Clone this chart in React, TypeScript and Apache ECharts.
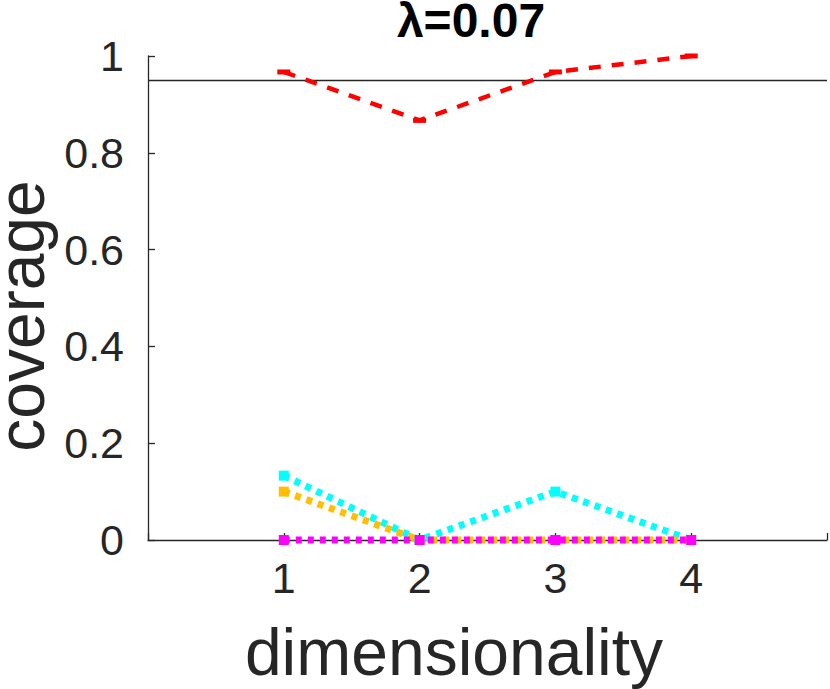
import React, { useEffect, useRef } from "react";
import * as echarts from "echarts";

const dims = [1, 2, 3, 4];
const redValues = [0.967, 0.867, 0.967, 1.0];
const cyanValues = [0.133, 0, 0.1, 0];
const orangeValues = [0.1, 0, 0, 0];
const magentaValues = [0, 0, 0, 0];
const xTickLabels = ["1", "2", "3", "4"];
const refLevel = 0.95;
const titleText = "λ=0.07";
const xName = "dimensionality";
const yName = "coverage";

const FONT = "'Liberation Sans', Arial, Helvetica, sans-serif";
const AXIS = "#262626";

function pairs(vals: number[]) {
  return dims.map((d, i) => [d, vals[i]]);
}

export default function App() {
  const ref = useRef<HTMLDivElement>(null);
  useEffect(() => {
    if (!ref.current) return;
    const chart = echarts.init(ref.current, null, { renderer: "svg" });
    const dotted = (name: string, color: string, vals: number[], z: number) => ({
      name,
      type: "line",
      data: pairs(vals),
      clip: false,
      z,
      symbol: "rect",
      symbolSize: 10,
      itemStyle: { color },
      lineStyle: { color, width: 7, type: [6, 6], cap: "butt" },
    });
    chart.setOption({
      animation: false,
      backgroundColor: "#ffffff",
      grid: { left: 148, right: 2, top: 56, bottom: 149, containLabel: false },
      xAxis: {
        type: "value",
        min: 0,
        max: 5,
        interval: 1,
        axisLine: { show: true, lineStyle: { color: AXIS, width: 1.3 } },
        axisTick: { show: true, inside: true, length: 7, lineStyle: { color: AXIS, width: 1.3 } },
        splitLine: { show: false },
        axisLabel: {
          margin: 16,
          fontSize: 43,
          fontFamily: FONT,
          color: AXIS,
          formatter: (v: number) => (v >= 1 && v <= 4 ? xTickLabels[v - 1] : ""),
        },
      },
      yAxis: {
        type: "value",
        min: 0,
        max: 1,
        interval: 0.2,
        axisLine: { show: true, lineStyle: { color: AXIS, width: 1.3 } },
        axisTick: { show: true, inside: true, length: 7, lineStyle: { color: AXIS, width: 1.3 } },
        splitLine: { show: false },
        axisLabel: {
          margin: 24,
          fontSize: 43,
          fontFamily: FONT,
          color: AXIS,
          formatter: (v: number) => (v === 0 ? "0" : v === 1 ? "1" : v.toFixed(1)),
        },
      },
      graphic: [
        {
          type: "text",
          x: 471,
          y: 20,
          style: {
            text: titleText,
            font: `bold 48px ${FONT}`,
            lineHeight: 40,
            fill: "#000000",
            align: "center",
            verticalAlign: "middle",
          },
        },
        {
          type: "text",
          x: 454,
          y: 652,
          style: {
            text: xName,
            font: `66px ${FONT}`,
            fill: AXIS,
            align: "center",
            verticalAlign: "middle",
          },
        },
        {
          type: "text",
          x: 21,
          y: 316,
          rotation: Math.PI / 2,
          style: {
            text: yName,
            font: `66px ${FONT}`,
            lineHeight: 40,
            fill: AXIS,
            align: "center",
            verticalAlign: "middle",
          },
        },
      ],
      series: [
        {
          name: "ref",
          type: "line",
          data: [],
          markLine: {
            silent: true,
            symbol: "none",
            label: { show: false },
            lineStyle: { color: AXIS, width: 1.3, type: "solid" },
            data: [{ yAxis: refLevel }],
          },
        },
        {
          name: "red",
          type: "line",
          data: pairs(redValues),
          clip: false,
          z: 5,
          symbol: "rect",
          symbolSize: [13, 5],
          itemStyle: { color: "#ff0000" },
          lineStyle: { color: "#ff0000", width: 4.5, type: [12, 11], cap: "butt" },
        },
        dotted("cyan", "#00ffff", cyanValues, 2),
        dotted("orange", "#ffbf00", orangeValues, 3),
        dotted("magenta", "#ff00ff", magentaValues, 4),
      ],
    });
    return () => chart.dispose();
  }, []);
  return (
    <div
      ref={ref}
      style={{ position: "fixed", left: 0, top: 0, width: 830, height: 689, background: "#fff" }}
    />
  );
}
